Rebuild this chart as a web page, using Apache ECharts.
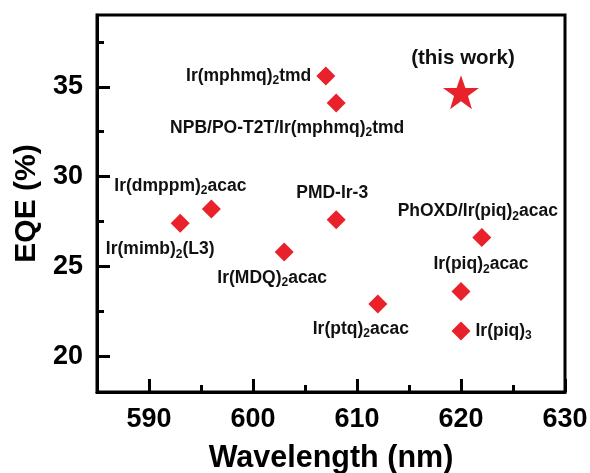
<!DOCTYPE html>
<html>
<head>
<meta charset="utf-8">
<script src="https://cdn.jsdelivr.net/npm/echarts@6/dist/echarts.min.js"></script>
<style>
html,body{margin:0;padding:0;background:#fff;}
#chart{width:590px;height:473px;}
</style>
</head>
<body>
<div id="chart"></div>
<script>
// ---- data ----
const emitters = ['Ir(mimb)2(L3)', 'Ir(dmppm)2acac', 'Ir(MDQ)2acac', 'Ir(mphmq)2tmd', 'NPB/PO-T2T/Ir(mphmq)2tmd', 'PMD-Ir-3', 'Ir(ptq)2acac', 'Ir(piq)2acac', 'Ir(piq)3', 'PhOXD/Ir(piq)2acac'];
const wavelength = [593, 596, 603, 607, 608, 608, 612, 620, 620, 622];
const eqe = [27.4, 28.2, 25.8, 35.6, 34.1, 27.6, 22.9, 23.6, 21.4, 26.6];
const thisWorkName = ['(this work)'];
const thisWorkWavelength = [620];
const thisWorkEQE = [34.7];
const xMajorTicks = [590, 600, 610, 620, 630];
const xMinorTicks = [595, 605, 615, 625];
const yMajorTicks = [20, 25, 30, 35];
const yMinorTicks = [22.5, 27.5, 32.5, 37.5];

// ---- label placement (layout only) ----
const labelLayout = [
  {offset: [-20, 26]},
  {offset: [-31, -23]},
  {offset: [-12, 26]},
  {position: 'left', distance: 5},
  {offset: [-49, 25]},
  {offset: [-4, -26]},
  {offset: [-17, 25]},
  {offset: [20, -27]},
  {position: 'right', distance: 5},
  {offset: [-4, -26]}
];

const RED = '#e8212a';
const FONT = '"Liberation Sans", Arial, Helvetica, sans-serif';

function subscript(name) {
  return name.replace(/\)(\d)/g, '){s|$1}');
}

const pointData = emitters.map((n, i) => {
  const lay = labelLayout[i];
  const label = lay.offset
    ? {position: 'inside', offset: lay.offset, align: 'center', verticalAlign: 'middle'}
    : {position: lay.position, distance: lay.distance};
  return {name: n, value: [wavelength[i], eqe[i]], label: label};
});

const starData = thisWorkName.map((n, i) => ({
  name: n, value: [thisWorkWavelength[i], thisWorkEQE[i]],
  label: {position: 'inside', offset: [2, -34], align: 'center', verticalAlign: 'middle'}
}));

const labelStyle = {
  show: true,
  color: '#111',
  opacity: 1,
  fontFamily: FONT,
  fontWeight: 'bold',
  fontSize: 17.5,
  lineHeight: 22,
  formatter: p => subscript(p.name),
  rich: {
    s: {fontFamily: FONT, fontWeight: 'bold', fontSize: 12, lineHeight: 12, verticalAlign: 'bottom', color: '#111'}
  }
};

const axisLabelBase = {fontFamily: FONT, fontWeight: 'bold', fontSize: 27, color: '#000'};

const chart = echarts.init(document.getElementById('chart'));
chart.setOption({
  animation: false,
  backgroundColor: '#fff',
  grid: {left: 97, top: 15, right: 25, bottom: 81, containLabel: false, outerBoundsMode: 'none',
         show: true, borderColor: '#000', borderWidth: 3, backgroundColor: 'transparent'},
  xAxis: [
    {
      type: 'value', min: 585, max: 630, interval: 5,
      position: 'bottom',
      name: 'Wavelength (nm)', nameLocation: 'middle', nameGap: 51,
      nameTextStyle: {fontFamily: FONT, fontWeight: 'bold', fontSize: 30.5, color: '#000'},
      axisLine: {show: true, onZero: false, lineStyle: {color: '#000', width: 3}},
      axisTick: {show: true, inside: true, length: 13, lineStyle: {color: '#000', width: 3}, customValues: xMajorTicks},
      axisLabel: Object.assign({margin: 14, customValues: xMajorTicks}, axisLabelBase),
      splitLine: {show: false}
    },
    {
      type: 'value', min: 585, max: 630, interval: 5,
      position: 'bottom',
      axisLine: {show: false},
      axisTick: {show: true, inside: true, length: 7, lineStyle: {color: '#000', width: 3}, customValues: xMinorTicks},
      axisLabel: {show: false},
      splitLine: {show: false}
    }
  ],
  yAxis: [
    {
      type: 'value', min: 18, max: 39, interval: 1,
      position: 'left',
      name: 'EQE (%)', nameLocation: 'middle', nameGap: 54,
      nameTextStyle: {fontFamily: FONT, fontWeight: 'bold', fontSize: 30, color: '#000'},
      axisLine: {show: true, onZero: false, lineStyle: {color: '#000', width: 3}},
      axisTick: {show: true, inside: true, length: 13, lineStyle: {color: '#000', width: 3}, customValues: yMajorTicks},
      axisLabel: Object.assign({margin: 14, customValues: yMajorTicks}, axisLabelBase),
      splitLine: {show: false}
    },
    {
      type: 'value', min: 18, max: 39, interval: 1,
      position: 'left',
      axisLine: {show: false},
      axisTick: {show: true, inside: true, length: 7, lineStyle: {color: '#000', width: 3}, customValues: yMinorTicks},
      axisLabel: {show: false},
      splitLine: {show: false}
    }
  ],
  series: [
    {
      type: 'scatter', xAxisIndex: 0, yAxisIndex: 0,
      symbol: 'diamond', symbolSize: 19,
      itemStyle: {color: RED, opacity: 1},
      label: labelStyle,
      data: pointData
    },
    {
      type: 'scatter', xAxisIndex: 0, yAxisIndex: 0,
      symbol: 'path://M50,0 L61.8,35.1 L98.5,35.1 L68.8,57.0 L79.4,92.7 L50,71.1 L20.6,92.7 L31.2,57.0 L1.5,35.1 L38.2,35.1 Z',
      symbolSize: [36, 34],
      itemStyle: {color: RED, opacity: 1},
      label: Object.assign({}, labelStyle, {fontSize: 20.5}),
      data: starData
    }
  ]
});
</script>
</body>
</html>
